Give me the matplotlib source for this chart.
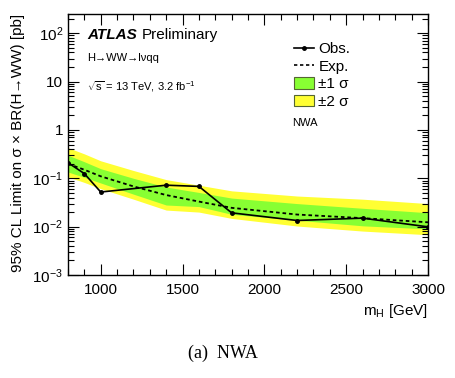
import numpy as np
import matplotlib
matplotlib.use("Agg")
import matplotlib.pyplot as plt
from matplotlib.lines import Line2D
from matplotlib.patches import Patch
from matplotlib.ticker import FixedLocator, MultipleLocator, NullFormatter

plt.rcParams['font.family'] = ['Liberation Sans', 'DejaVu Sans']
plt.rcParams['mathtext.fontset'] = 'custom'
plt.rcParams['mathtext.rm'] = 'Liberation Sans'
plt.rcParams['mathtext.it'] = 'Liberation Sans:italic'
plt.rcParams['mathtext.bf'] = 'Liberation Sans:bold'

# Data
mass_obs = [800, 900, 1000, 1400, 1600, 1800, 2200, 2600, 3000]
obs = [0.21, 0.125, 0.052, 0.072, 0.068, 0.0193, 0.0134, 0.0150, 0.0099]

mass_exp = [800, 900, 1000, 1200, 1400, 1600, 1800, 2200, 2600, 3000]
exp_ = [0.20, 0.15, 0.11, 0.068, 0.045, 0.033, 0.0245, 0.0178, 0.0150, 0.0123]
p2 = [0.43, 0.32, 0.23, 0.145, 0.094, 0.072, 0.055, 0.043, 0.037, 0.030]
p1 = [0.30, 0.22, 0.158, 0.10, 0.066, 0.051, 0.039, 0.030, 0.024, 0.0194]
m1 = [0.135, 0.105, 0.080, 0.047, 0.028, 0.026, 0.018, 0.0136, 0.0104, 0.0090]
m2 = [0.107, 0.082, 0.061, 0.037, 0.022, 0.020, 0.0148, 0.0103, 0.0081, 0.0068]

ytick_vals = [1e-3, 1e-2, 1e-1, 1, 10, 100]
ytick_labels = [r'$10^{-3}$', r'$10^{-2}$', r'$10^{-1}$', '1', '10', r'$10^{2}$']
xtick_vals = [1000, 1500, 2000, 2500, 3000]

W, H = 455, 378
fig = plt.figure(figsize=(W/100, H/100), dpi=100)
ax = fig.add_axes([68/W, 1 - 275/H, (428-68)/W, (275-14)/H])

green = '#88ff33'
yellow = '#ffff33'
ax.fill_between(mass_exp, m2, p2, color=yellow, lw=0)
ax.fill_between(mass_exp, m1, p1, color=green, lw=0)
ax.plot(mass_exp, exp_, color='black', lw=1.3, ls=(0, (2, 1.6)))
ax.plot(mass_obs, obs, color='black', lw=1.2, marker='o', ms=2.5)

ax.set_yscale('log')
ax.set_xlim(800, 3000)
ax.set_ylim(1e-3, 250)
ax.yaxis.set_major_locator(FixedLocator(ytick_vals))
ax.set_yticklabels(ytick_labels)
ax.yaxis.set_minor_locator(matplotlib.ticker.LogLocator(base=10, subs=np.arange(2, 10), numticks=20))
ax.yaxis.set_minor_formatter(NullFormatter())
ax.xaxis.set_major_locator(FixedLocator(xtick_vals))
ax.xaxis.set_minor_locator(MultipleLocator(100))
ax.tick_params(which='both', direction='in', top=True, right=True, labelsize=11)
ax.tick_params(which='major', length=8, width=0.8)
ax.tick_params(which='minor', length=4, width=0.8)
ax.tick_params(axis='x', pad=6)
for s in ax.spines.values():
    s.set_linewidth(1.0)

fig.text(18/W, 1 - 14/H, '95% CL Limit on σ × BR(H→WW) [pb]', rotation=90,
         ha='center', va='top', fontsize=11)
fig.text(428/W, 1 - 311/H, r'm$_\mathregular{H}$ [GeV]', ha='right', va='center', fontsize=11)
fig.text(223/W, 1 - 353/H, '(a)  NWA', ha='center', va='center', fontsize=13,
         family='Liberation Serif')

fig.text(87/W, 1 - 35/H, 'ATLAS', fontsize=11, weight='bold', style='italic', va='center')
fig.text(142/W, 1 - 35/H, 'Preliminary', fontsize=11, va='center')
fig.text(87/W, 1 - 58/H, 'H→WW→lνqq', fontsize=8, va='center')
fig.text(87/W, 1 - 87/H, r'$\sqrt{\mathregular{s}}$ = 13 TeV, 3.2 fb$^{\mathregular{-1}}$', fontsize=8, va='center')
fig.text(292/W, 1 - 123/H, 'NWA', fontsize=8, va='center')

handles = [
    Line2D([], [], color='black', lw=1.2, marker='o', ms=2.5),
    Line2D([], [], color='black', lw=1.2, ls=(0, (2, 1.6))),
    Patch(facecolor=green, edgecolor='#556633', lw=0.8),
    Patch(facecolor=yellow, edgecolor='#556633', lw=0.8),
]
labels = ['Obs.', 'Exp.', '±1 σ', '±2 σ']
ax.legend(handles, labels, loc='upper left', bbox_to_anchor=(294/W, 1 - 42/H),
          bbox_transform=fig.transFigure, frameon=False, fontsize=11,
          handlelength=1.3, handleheight=0.8, handletextpad=0.3, labelspacing=0.22,
          borderpad=0, borderaxespad=0)

fig.savefig('out.png', dpi=100)
